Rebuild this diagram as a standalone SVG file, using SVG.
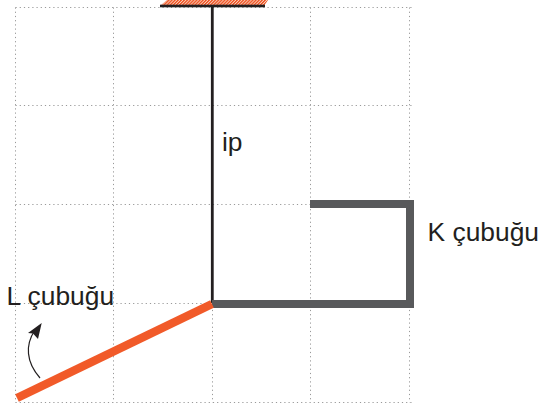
<svg xmlns="http://www.w3.org/2000/svg" width="540" height="407" viewBox="0 0 540 407">
<defs>
<pattern id="hatch" width="2.2" height="2.2" patternUnits="userSpaceOnUse" patternTransform="rotate(45)">
<rect width="2.2" height="2.2" fill="#fbd0bc"/>
<rect width="1.300" height="2.200" fill="#ef4f1e"/>
</pattern>
</defs>
<style>
.grid{fill:none;stroke:#999999;stroke-width:1;stroke-dasharray:1.200 3}
.label{font-family:"Liberation Sans",Arial,sans-serif;font-size:26.400px;fill:#231f20}
.thick{fill:none;stroke:#58595b;stroke-width:8}
</style>
<g id="grid" class="grid">
<path d="M15.500 7.500H411.500M15.500 105.500H411.500M15.500 204.500H411.500M15.500 303.500H411.500M15.500 402.500H411.500"/>
<path d="M15.500 7.500V402.500M113.500 7.500V402.500M212.500 7.500V402.500M310.500 7.500V402.500M409.500 7.500V402.500"/>
</g>
<g id="support">
<polygon points="160,6 167,0 268,0 264,6" fill="url(#hatch)"/>
<rect x="160" y="4.700" width="105" height="2.600" fill="#231f20"/>
</g>
<g id="connectors">
<line x1="212.300" y1="6" x2="212.300" y2="303" stroke="#231f20" stroke-width="2.800"/>
<path d="M40 378C26 362 25 345 35 330" fill="none" stroke="#231f20" stroke-width="1.200"/>
<path d="M41.700 323L38 339L33 333.500L28 333Z" fill="#231f20"/>
</g>
<g id="rod-k">
<path class="thick" d="M212 304H410V204H310"/>
</g>
<g id="rod-l">
<line x1="212" y1="304" x2="17" y2="398" stroke="#f15a29" stroke-width="8.400"/>
</g>
<g id="label-ip"><text class="label" x="222" y="150.500">ip</text></g>
<g id="label-k"><text class="label" x="427.500" y="240.500">K çubuğu</text></g>
<g id="label-l"><text class="label" x="6.500" y="305">L çubuğu</text></g>
</svg>
